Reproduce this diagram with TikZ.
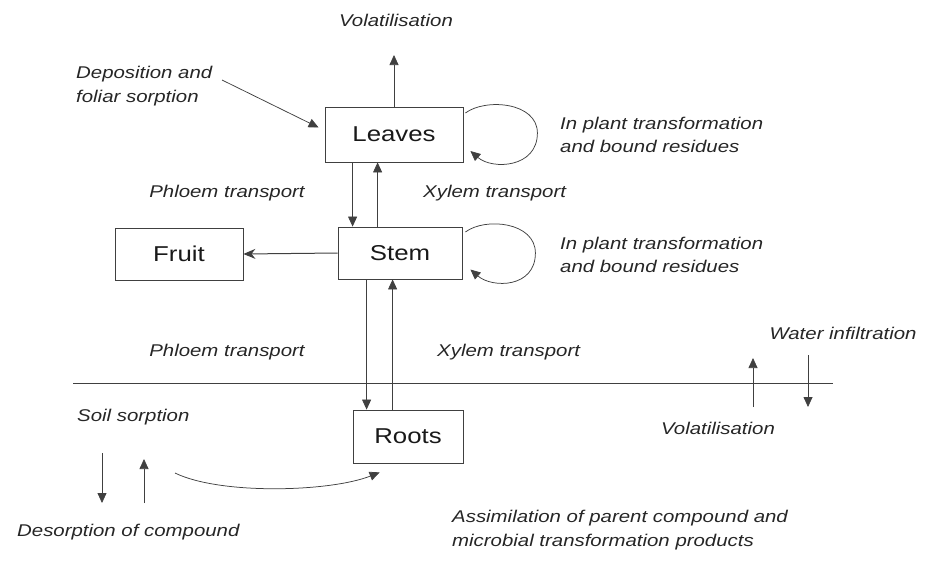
\documentclass[tikz,border=0pt]{standalone}
\usepackage{fontspec}
\setmainfont{Liberation Sans}[FakeStretch=1.2]
\usepackage{tikz}
\usetikzlibrary{positioning,calc}
\usetikzlibrary{arrows.meta}
\tikzset{
	boite/.style={draw=black!75,line width=0.8pt,inner sep=0pt,text=black!90,font=\fontsize{21.5}{24}\selectfont},
	lbl/.style={inner sep=0pt,align=left,text=black!85,font=\fontsize{17}{23.5}\selectfont\itshape},
	fl/.style={draw=black!75,line width=0.75pt,-{Triangle[length=10pt,width=9pt]}}
}

\begin{document}
\begin{tikzpicture}[x=1pt,y=-1pt]
\useasboundingbox (0,0) rectangle (925,560);

%Boites
\node[boite,minimum width=138pt,minimum height=55pt] (leaves) at (394,134.5) {Leaves};
\node[boite,minimum width=124pt,minimum height=52pt] (stem) at (400,253) {Stem};
\node[boite,minimum width=128pt,minimum height=52pt] (fruit) at (179,254) {Fruit};
\node[boite,minimum width=110pt,minimum height=53pt] (roots) at (408,436.5) {Roots};

%Extremites libres
\coordinate (volH) at (394,55);
\coordinate (dep) at (222,80);
\coordinate (sorp) at (175,473);
\coordinate (eauH) at (753,358);
\coordinate (eauB) at (753,407);
\coordinate (infH) at (808,355);
\coordinate (infB) at (808,407);
\coordinate (desH) at (144,459);
\coordinate (desB) at (144,503);
\coordinate (sorH) at (102,453);
\coordinate (sorB) at (102,503);

%Sol
\draw[black!75,line width=1pt] (73,383) -- (833,383);

%Textes
\node[lbl] (tVol) at (396,20) {Volatilisation};
\node[lbl,anchor=west] (tDep) at (76,86) {Deposition and\\foliar sorption};
\node[lbl,anchor=west] (tIpL) at (560,135) {In plant transformation\\and bound residues};
\node[lbl,anchor=west] (tIpS) at (560,255) {In plant transformation\\and bound residues};
\node[lbl] (tPh1) at (227,193) {Phloem transport};
\node[lbl,anchor=west] (tXy1) at (423,193) {Xylem transport};
\node[lbl] (tPh2) at (227,352) {Phloem transport};
\node[lbl,anchor=west] (tXy2) at (437,352) {Xylem transport};
\node[lbl] (tEau) at (843,333) {Water infiltration};
\node[lbl] (tVol2) at (718,428) {Volatilisation};
\node[lbl,anchor=west] (tSol) at (77,417) {Soil sorption};
\node[lbl,anchor=west] (tDes) at (17,532) {Desorption of compound};
\node[lbl,anchor=west] (tAss) at (452,530) {Assimilation of parent compound and\\microbial transformation products};

%Fleches
\draw[fl] (leaves.north) -- (volH);
\draw[fl] (dep) -- ([xshift=-6pt,yshift=7pt]leaves.west);
\draw[fl] ([xshift=15pt]stem.north west |- leaves.south) -- ([xshift=15pt]stem.north west);
\draw[fl] ([xshift=40pt]stem.north west) -- ([xshift=40pt]stem.north west |- leaves.south);
\draw[draw=black!75,line width=1pt,-{Stealth[length=12pt,width=10pt]}] (stem.west) -- (fruit.east);
\draw[fl] ([xshift=14pt]roots.north west |- stem.south) -- ([xshift=14pt]roots.north west);
\draw[fl] ([xshift=40pt]roots.north west) -- ([xshift=40pt]roots.north west |- stem.south);

%Boucles
\draw[fl] ($(leaves.east)+(2,-21.5)$) .. controls +(20,-15) and +(0,-31) .. ($(leaves.east)+(74,-1.5)$) .. controls +(0,35) and +(22,19) .. ($(leaves.east)+(7,16.5)$);
\draw[fl] ($(stem.east)+(3,-21)$) .. controls +(20,-15) and +(0,-31) .. ($(stem.east)+(73,0)$) .. controls +(0,35) and +(22,19) .. ($(stem.east)+(8,16.5)$);

%Sol
\draw[fl] (eauB) -- (eauH);
\draw[fl] (infH) -- (infB);
\draw[fl] (sorH) -- (sorB);
\draw[fl] (desB) -- (desH);
\draw[fl] (sorp) .. controls (220,495) and (330,492) .. ([xshift=27pt,yshift=-9pt]roots.south west);

\end{tikzpicture}
\end{document}
